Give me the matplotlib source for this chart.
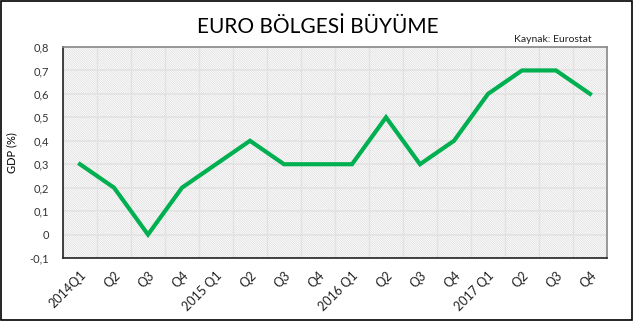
import numpy as np
import matplotlib
matplotlib.use("Agg")
import matplotlib.pyplot as plt
from matplotlib.ticker import MultipleLocator, FuncFormatter
from matplotlib.patches import Rectangle

plt.rcParams['font.family'] = ['Lato', 'DejaVu Sans']
plt.rcParams['hatch.linewidth'] = 0.4

# veri
quarters = ["2014Q1", "Q2", "Q3", "Q4", "2015 Q1", "Q2", "Q3", "Q4",
            "2016 Q1", "Q2", "Q3", "Q4", "2017 Q1", "Q2", "Q3", "Q4"]
gdp = [0.3, 0.2, 0.0, 0.2, 0.3, 0.4, 0.3, 0.3,
       0.3, 0.5, 0.3, 0.4, 0.6, 0.7, 0.7, 0.6]

fig = plt.figure(figsize=(6.35, 3.21), dpi=100)
ax = fig.add_axes([63 / 635, 1 - 258 / 321, 544 / 635, 211 / 321])

# tarama arka plan
ax.add_patch(Rectangle((0, 0), 1, 1, transform=ax.transAxes, facecolor='none',
                       edgecolor='#d2d2d2', lw=0, hatch='\\' * 15, zorder=0))

x = np.arange(len(gdp))
ax.plot(x, gdp, color='#00B050', lw=3, solid_joinstyle='miter', zorder=3)

ax.set_xlim(-0.5, len(gdp) - 0.5)
ax.set_ylim(-0.1, 0.8)
ax.yaxis.set_major_locator(MultipleLocator(0.1))
ax.yaxis.set_major_formatter(FuncFormatter(
    lambda v, p: "0" if abs(v) < 1e-9 else ("%.1f" % v).replace(".", ",")))
ax.set_xticks(x)
ax.set_xticklabels(quarters, rotation=45, ha='right', rotation_mode='anchor')
ax.xaxis.set_minor_locator(MultipleLocator(0.5))

ax.grid(axis='y', which='major', color='#e2e2e2', lw=1.2, zorder=1)
ax.grid(axis='x', which='minor', color='#e2e2e2', lw=1.0, zorder=1)
ax.set_axisbelow(True)

ax.tick_params(axis='both', which='both', length=0, colors='#222222')
ax.tick_params(axis='y', pad=10, labelsize=8)
ax.tick_params(axis='x', pad=8, labelsize=9)
for lbl in ax.get_yticklabels():
    lbl.set_color('#333333')

ax.spines['left'].set_color('#222222')
ax.spines['bottom'].set_color('#222222')
ax.spines['top'].set_color('#888888')
ax.spines['right'].set_color('#888888')
for s in ax.spines.values():
    s.set_linewidth(1.2)

ax.set_ylabel("GDP (%)", fontsize=8)
ax.yaxis.set_label_coords(-(63 - 17) / 544, 0.5)

fig.text(0.5, 1 - 27 / 321, "EURO BÖLGESİ BÜYÜME", ha='center', va='center',
         fontsize=15, color='black')
fig.text(592 / 635, 1 - 40 / 321, "Kaynak: Eurostat", ha='right', va='center',
         fontsize=7.5, color='#222222')

# cerceve
fig.add_artist(Rectangle((0.002, 0.004), 0.994, 0.992, transform=fig.transFigure,
                         facecolor='none', edgecolor='black', lw=1.2))

fig.savefig("out.png", dpi=100)
